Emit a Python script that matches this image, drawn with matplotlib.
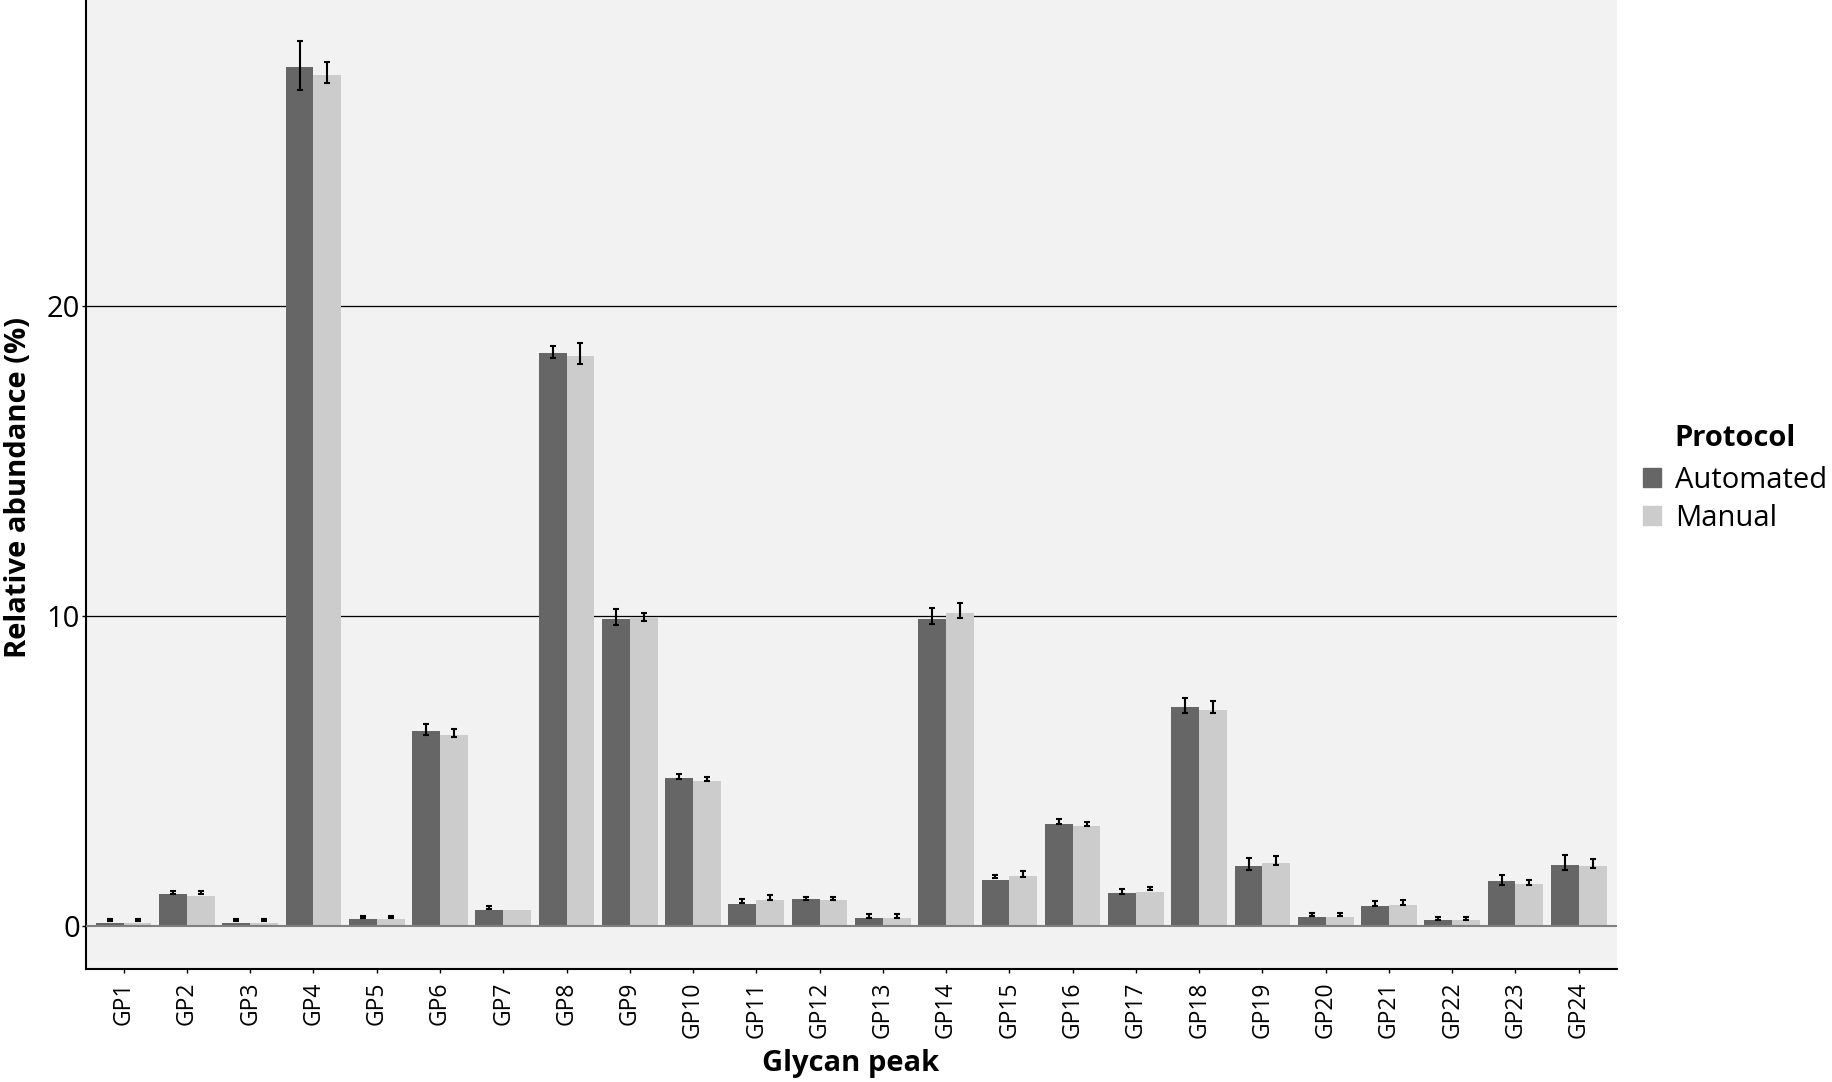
import numpy as np
import matplotlib
matplotlib.use("Agg")
import matplotlib.pyplot as plt
from matplotlib.patches import Patch

plt.rcParams['font.family'] = ['Open Sans', 'DejaVu Sans']

# data
peaks = ["GP%d" % i for i in range(1, 25)]

auto_bar = [0.10, 1.02, 0.10, 27.69, 0.20, 6.28, 0.49, 18.47, 9.90, 4.76, 0.71, 0.86,
            0.25, 9.89, 1.48, 3.29, 1.04, 7.05, 1.93, 0.28, 0.64, 0.17, 1.45, 1.95]
auto_mean = [0.18, 1.08, 0.18, 27.75, 0.28, 6.32, 0.58, 18.51, 9.95, 4.82, 0.80, 0.88,
             0.32, 9.98, 1.58, 3.36, 1.10, 7.09, 1.98, 0.36, 0.70, 0.23, 1.48, 2.04]
auto_sd = [0.04, 0.05, 0.03, 0.79, 0.04, 0.18, 0.06, 0.20, 0.25, 0.08, 0.07, 0.05,
           0.06, 0.26, 0.06, 0.08, 0.07, 0.24, 0.19, 0.06, 0.08, 0.05, 0.16, 0.23]

manual_bar = [0.10, 0.97, 0.10, 27.44, 0.20, 6.16, 0.49, 18.39, 9.94, 4.68, 0.82, 0.82,
              0.25, 10.09, 1.60, 3.20, 1.08, 6.96, 2.03, 0.28, 0.67, 0.17, 1.34, 1.91]
manual_mean = [0.18, 1.08, 0.18, 27.53, 0.28, 6.20, np.nan, 18.45, 9.97, 4.74, 0.90, 0.88,
               0.32, 10.17, 1.67, 3.28, 1.19, 7.06, 2.09, 0.36, 0.74, 0.23, 1.39, 2.00]
manual_sd = [0.04, 0.05, 0.03, 0.34, 0.04, 0.13, np.nan, 0.33, 0.13, 0.07, 0.08, 0.05,
             0.06, 0.24, 0.09, 0.07, 0.05, 0.20, 0.15, 0.06, 0.08, 0.05, 0.08, 0.14]

auto_color = "#666666"
manual_color = "#cccccc"

W, H = 1832, 1082
fig = plt.figure(figsize=(W / 100, H / 100), dpi=100)
ax = fig.add_axes([85.7 / W, (H - 968.7) / H, 1531 / W, 968.7 / H])
ax.set_facecolor("#f2f2f2")

x = np.arange(len(peaks))
bw = 0.44

ax.bar(x - bw / 2, auto_bar, width=bw, color=auto_color, zorder=2)
ax.bar(x + bw / 2, manual_bar, width=bw, color=manual_color, zorder=2)

ax.errorbar(x - bw / 2, auto_mean, yerr=auto_sd, fmt='none', ecolor='black',
            elinewidth=1.5, capsize=2.4, capthick=1.5, zorder=4)
ax.errorbar(x + bw / 2, manual_mean, yerr=manual_sd, fmt='none', ecolor='black',
            elinewidth=1.5, capsize=2.4, capthick=1.5, zorder=4)

# grid lines at 10 and 20, grey baseline at 0
for yv in [10, 20]:
    ax.axhline(yv, color='black', lw=0.9, zorder=1)
ax.axhline(0, color='#808080', lw=1.5, zorder=3)

ax.set_xlim(-0.6, len(peaks) - 0.4)
ax.set_ylim(-1.39, 29.86)
ax.set_yticks([0, 10, 20])
ax.set_xticks(x)
ax.set_xticklabels(peaks, rotation=90, fontsize=16.5)
ax.tick_params(axis='y', labelsize=21, length=3, width=1, pad=1)
ax.tick_params(axis='x', length=3, width=1, pad=6)

for s in ['top', 'right']:
    ax.spines[s].set_visible(False)
for s in ['left', 'bottom']:
    ax.spines[s].set_linewidth(1.5)

fig.text(19 / W, 1 - 488 / H, "Relative abundance (%)", rotation=90, ha='center',
         va='center', fontsize=21, fontweight='bold')
fig.text(851 / W, 1 - 1063 / H, "Glycan peak", ha='center', va='center',
         fontsize=21, fontweight='bold')

# legend
fig.text(1674 / W, 1 - 439 / H, "Protocol", ha='left', va='center',
         fontsize=21, fontweight='bold')
handles = [Patch(color=auto_color, label="Automated"),
           Patch(color=manual_color, label="Manual")]
fig.legend(handles=handles, loc='upper left', bbox_to_anchor=(1643 / W, 1 - 466 / H),
           frameon=False, fontsize=21, handlelength=0.6, handleheight=0.6,
           handletextpad=0.5, labelspacing=0.3, borderpad=0, borderaxespad=0)

fig.savefig("out.png", dpi=100)
